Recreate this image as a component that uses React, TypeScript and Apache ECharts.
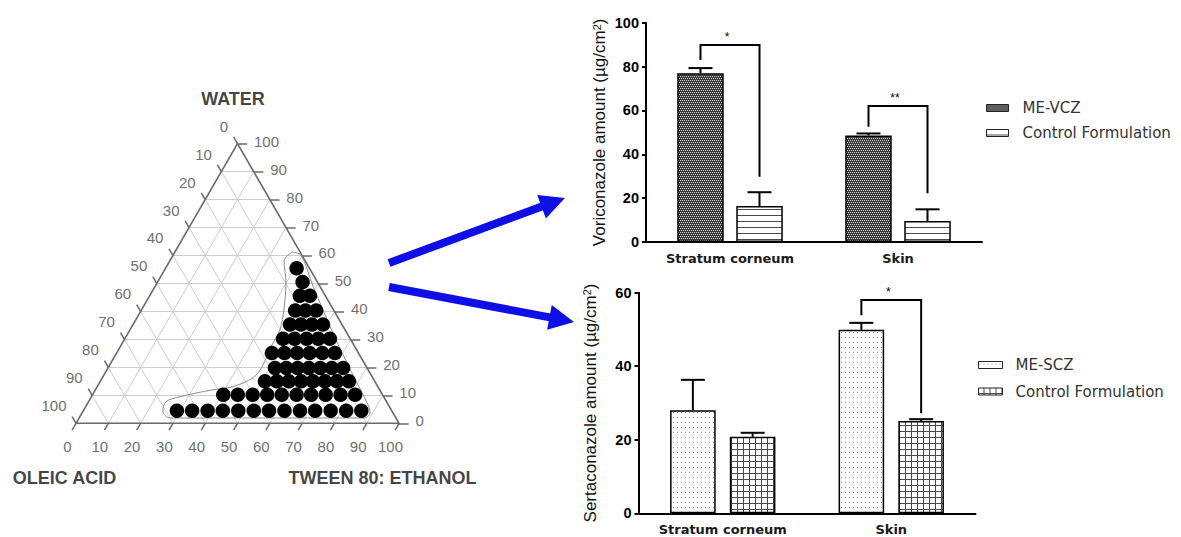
import React, { useEffect, useRef } from 'react';
import * as echarts from 'echarts';

// ---------------- Ternary phase diagram ----------------
const TERNARY_TICKS = [0, 10, 20, 30, 40, 50, 60, 70, 80, 90, 100];
const TERNARY_GRID = [10, 20, 30, 40, 50, 60, 70, 80, 90];
const CORNER_TITLES = ['WATER', 'OLEIC ACID', 'TWEEN 80: ETHANOL'];

// Microemulsion region points: [Tween 80:Ethanol %, Water %]  (oleic acid = remainder)
const ME_POINTS: number[][] = [
  [29.0, 4.5], [33.7, 4.5], [38.5, 4.5], [43.2, 4.5], [48.0, 4.5], [52.8, 4.5], [57.5, 4.5],
  [62.3, 4.5], [67.1, 4.5], [71.8, 4.5], [76.6, 4.5], [81.4, 4.5], [86.1, 4.5],
  [40.5, 10.2], [45.0, 10.2], [49.6, 10.2], [54.1, 10.2], [58.6, 10.2], [63.2, 10.2], [67.7, 10.2],
  [72.2, 10.2], [76.8, 10.2], [81.3, 10.2],
  [51.0, 15.0], [54.7, 15.0], [58.4, 15.0], [62.2, 15.0], [65.9, 15.0], [69.6, 15.0], [73.3, 15.0], [77.0, 15.0],
  [51.7, 19.8], [55.2, 19.8], [58.7, 19.8], [62.2, 19.8], [65.7, 19.8], [69.3, 19.8], [72.8, 19.8],
  [48.1, 25.1], [52.0, 25.1], [55.9, 25.1], [59.8, 25.1], [63.7, 25.1], [67.6, 25.1],
  [49.0, 30.2], [52.6, 30.2], [56.3, 30.2], [59.9, 30.2], [63.5, 30.2],
  [48.6, 35.3], [52.0, 35.3], [55.4, 35.3], [58.8, 35.3],
  [47.7, 40.3], [50.9, 40.3], [54.2, 40.3],
  [46.5, 45.6], [49.6, 45.6],
  [44.9, 50.5],
  [40.6, 55.4],
];

// Outline of the microemulsion region: [Tween 80:Ethanol %, Water %]
const ME_BOUNDARY: number[][] = [
  [36.3, 61.2], [39.6, 60.1], [48.9, 49.0], [63.3, 32.4], [75.3, 19.2], [87.1, 6.6], [89.2, 3.7],
  [88.2, 1.9], [28.2, 1.9], [24.7, 4.4], [24.0, 7.7], [27.5, 9.5], [36.4, 12.0], [41.8, 13.0],
  [46.7, 16.3], [47.5, 20.2], [46.7, 27.4], [46.4, 33.5], [44.0, 40.7], [39.8, 50.4], [35.4, 58.0],
  [36.3, 61.2],
];

// ---------------- Bar charts ----------------
const CATEGORIES = ['Stratum corneum', 'Skin'];

const VCZ_NAMES = ['ME-VCZ', 'Control Formulation'];
const VCZ_ME = [77.0, 48.6];
const VCZ_ME_SD = [2.3, 0.9];
const VCZ_CTRL = [16.4, 9.6];
const VCZ_CTRL_SD = [6.3, 5.3];
// [category, left leg start, bracket top, right leg end]
const VCZ_SIG = [[0, 83.0, 89.8, 29.8], [1, 52.6, 62.0, 22.2]];
const VCZ_SIG_LABELS = ['*', '**'];

const SCZ_NAMES = ['ME-SCZ', 'Control Formulation'];
const SCZ_ME = [28.0, 49.9];
const SCZ_ME_SD = [8.3, 1.9];
const SCZ_CTRL = [20.8, 25.1];
const SCZ_CTRL_SD = [1.1, 0.5];
const SCZ_SIG = [[1, 53.9, 58.0, 27.2]];
const SCZ_SIG_LABELS = ['*'];

// Arrows (page pixel space): [tail, tip]
const ARROWS = [
  [[389, 263], [565, 198]],
  [[389, 287], [574, 322]],
];

const SQ = Math.sqrt(3) / 2;
const FONT = 'Liberation Sans, Arial, sans-serif';
const FONT_D = 'DejaVu Sans, Verdana, sans-serif';

function pattern(w: number, h: number, bg: string, ink: string, rects: number[][]) {
  const c = document.createElement('canvas');
  c.width = w;
  c.height = h;
  const ctx = c.getContext('2d')!;
  ctx.fillStyle = bg;
  ctx.fillRect(0, 0, w, h);
  ctx.fillStyle = ink;
  rects.forEach(([x, y, rw = 1, rh = 1]) => ctx.fillRect(x, y, rw, rh));
  return { image: c, repeat: 'repeat', imageWidth: w, imageHeight: h } as any;
}

const tw = (t: number, w: number) => [t + w / 2, w * SQ];

function buildOption() {
  const P_VCZ_ME = pattern(4, 4, '#383838', '#d2d2d2', [[0, 0], [2, 0], [1, 2], [3, 2]]);
  const P_VCZ_CTRL = pattern(6, 6, '#ffffff', '#4a4a4a', [[0, 5, 6, 1]]);
  const P_SCZ_ME = pattern(4, 5, '#ffffff', '#8a8a8a', [[1, 2]]);
  const P_SCZ_CTRL = pattern(6, 6, '#ffffff', '#4a4a4a', [[0, 5, 6, 1], [5, 0, 1, 6]]);

  // ternary grid lines
  const gridSegs: any[] = [];
  TERNARY_GRID.forEach((k) => {
    gridSegs.push({ coords: [tw(0, k), tw(100 - k, k)] });
    gridSegs.push({ coords: [tw(k, 0), tw(k, 100 - k)] });
    gridSegs.push({ coords: [tw(100 - k, 0), tw(0, 100 - k)] });
  });
  const L = 2.4;
  const tickSegs: any[] = [];
  TERNARY_TICKS.forEach((k) => {
    const b = tw(k, 0);
    tickSegs.push({ coords: [b, [b[0] - 0.5 * L, b[1] - SQ * L]] });
    const l = tw(0, 100 - k);
    tickSegs.push({ coords: [l, [l[0] - 0.5 * L, l[1] + SQ * L]] });
    const r = tw(100 - k, k);
    tickSegs.push({ coords: [r, [r[0] + 3, r[1]]] });
  });

  const tickLabel = { fontSize: 15, color: '#474747', fontFamily: FONT };

  const arrowData = ARROWS.map(([tail, tip]) => {
    const dx = tip[0] - tail[0];
    const dy = tip[1] - tail[1];
    const len = Math.hypot(dx, dy);
    return { coords: [tail, [tip[0] - (12.5 * dx) / len, tip[1] - (12.5 * dy) / len]] };
  });

  const errorSeries = (g: number, vals: number[], sds: number[], offset: number) => ({
    type: 'custom',
    xAxisIndex: g,
    yAxisIndex: g,
    silent: true,
    z: 5,
    data: vals.map((v, i) => [i, v, v + sds[i]]),
    renderItem: (_p: any, api: any) => {
      const base = api.coord([api.value(0), api.value(1)]);
      const top = api.coord([api.value(0), api.value(2)]);
      const x = base[0] + offset;
      return {
        type: 'group',
        children: [
          { type: 'line', shape: { x1: x, y1: base[1], x2: x, y2: top[1] }, style: { stroke: '#000', lineWidth: 2 } },
          { type: 'line', shape: { x1: x - 12, y1: top[1], x2: x + 12, y2: top[1] }, style: { stroke: '#000', lineWidth: 2 } },
        ],
      };
    },
  });

  const bracketSeries = (g: number, sig: number[][], labels: string[], offset: number) => ({
    type: 'custom',
    xAxisIndex: g,
    yAxisIndex: g,
    silent: true,
    z: 6,
    data: sig,
    renderItem: (p: any, api: any) => {
      const cat = api.value(0);
      const l = api.coord([cat, api.value(1)]);
      const t = api.coord([cat, api.value(2)]);
      const r = api.coord([cat, api.value(3)]);
      const xl = l[0] - offset;
      const xr = l[0] + offset;
      return {
        type: 'group',
        children: [
          {
            type: 'polyline',
            shape: { points: [[xl, l[1]], [xl, t[1]], [xr, t[1]], [xr, r[1]]] },
            style: { stroke: '#000', lineWidth: 2, fill: 'none' },
          },
          {
            type: 'text',
            x: (xl + xr) / 2 - 3,
            y: t[1] - 2,
            style: { text: labels[p.dataIndex], fill: '#000', fontSize: 12, fontFamily: FONT, align: 'center', verticalAlign: 'bottom' },
          },
        ],
      };
    },
  });

  const barAxisX = (g: number) => ({
    type: 'category',
    gridIndex: g,
    data: CATEGORIES,
    axisLine: { lineStyle: { color: '#000', width: 2 } },
    axisTick: { alignWithLabel: true, length: 5, lineStyle: { color: '#000', width: 2 } },
    axisLabel: { fontFamily: FONT_D, fontWeight: 'bold', fontSize: 13, color: '#1a1a1a', margin: 10 },
  });
  const barAxisY = (g: number, max: number, name: string, gap: number) => ({
    type: 'value',
    gridIndex: g,
    min: 0,
    max,
    interval: 20,
    name,
    nameLocation: 'middle',
    nameGap: gap,
    nameTextStyle: {
      rich: {
        t: { fontSize: 17, fontFamily: FONT, color: '#111' },
        s: { fontSize: 11, fontFamily: FONT, color: '#111', verticalAlign: 'top' },
      },
    },
    axisLine: { show: true, lineStyle: { color: '#000', width: 2 } },
    axisTick: { show: true, length: 4, lineStyle: { color: '#000', width: 2 } },
    splitLine: { show: false },
    axisLabel: { fontFamily: FONT, fontWeight: 'bold', fontSize: 14.5, color: '#000', margin: 7 },
  });

  const legendText = { fontFamily: FONT_D, fontSize: 15, color: '#333', lineHeight: 16 };

  return {
    animation: false,
    backgroundColor: '#ffffff',
    grid: [
      { left: 76, top: 143.6, width: 323, height: 279.7 },
      { left: 646, top: 22.7, width: 336, height: 219.3 },
      { left: 638.5, top: 292.7, width: 337, height: 220.6 },
      { left: 0, top: 0, width: 1181, height: 537 },
    ],
    xAxis: [
      { type: 'value', gridIndex: 0, min: 0, max: 100, show: false },
      barAxisX(1),
      barAxisX(2),
      { type: 'value', gridIndex: 3, min: 0, max: 1181, show: false },
    ],
    yAxis: [
      { type: 'value', gridIndex: 0, min: 0, max: 100 * SQ, show: false },
      barAxisY(1, 100, '{t|Voriconazole amount (µg/cm}{s|2}{t|)}', 38),
      barAxisY(2, 60, '{t|Sertaconazole amount (µg/cm}{s|2}{t|)}', 40),
      { type: 'value', gridIndex: 3, min: 0, max: 537, inverse: true, show: false },
    ],
    legend: [
      {
        orient: 'vertical',
        left: 986,
        top: 100,
        padding: 0,
        itemWidth: 22,
        itemHeight: 7,
        itemGap: 9,
        icon: 'rect',
        selectedMode: false,
        textStyle: { ...legendText, padding: [0, 0, 0, 9] },
        data: [
          { name: VCZ_NAMES[0], itemStyle: { color: P_VCZ_ME, borderColor: '#222', borderWidth: 1 } },
          { name: VCZ_NAMES[1], itemStyle: { color: P_VCZ_CTRL, borderColor: '#222', borderWidth: 1 } },
        ],
      },
      {
        orient: 'vertical',
        left: 978,
        top: 357,
        padding: 0,
        itemWidth: 24,
        itemHeight: 7,
        itemGap: 10.5,
        icon: 'rect',
        selectedMode: false,
        textStyle: { ...legendText, padding: [0, 0, 0, 8] },
        data: [
          { name: SCZ_NAMES[0], itemStyle: { color: P_SCZ_ME, borderColor: '#222', borderWidth: 1 } },
          { name: SCZ_NAMES[1], itemStyle: { color: P_SCZ_CTRL, borderColor: '#222', borderWidth: 1 } },
        ],
      },
    ],
    series: [
      // ----- ternary -----
      {
        type: 'lines',
        coordinateSystem: 'cartesian2d',
        xAxisIndex: 0,
        yAxisIndex: 0,
        silent: true,
        clip: false,
        z: 1,
        data: gridSegs,
        lineStyle: { color: '#cdcdcd', width: 1, opacity: 1 },
      },
      {
        type: 'lines',
        coordinateSystem: 'cartesian2d',
        xAxisIndex: 0,
        yAxisIndex: 0,
        silent: true,
        clip: false,
        polyline: true,
        z: 2,
        data: [{ coords: [tw(0, 0), tw(100, 0), tw(0, 100), tw(0, 0)] }],
        lineStyle: { color: '#6a6a6a', width: 1.6, opacity: 1 },
      },
      {
        type: 'lines',
        coordinateSystem: 'cartesian2d',
        xAxisIndex: 0,
        yAxisIndex: 0,
        silent: true,
        clip: false,
        z: 2,
        data: tickSegs,
        lineStyle: { color: '#6a6a6a', width: 1.5, opacity: 1 },
      },
      {
        type: 'line',
        xAxisIndex: 0,
        yAxisIndex: 0,
        silent: true,
        clip: false,
        smooth: 0.35,
        symbol: 'none',
        z: 2,
        data: ME_BOUNDARY.map(([t, w]) => tw(t, w)),
        lineStyle: { color: '#8c8c8c', width: 1 },
      },
      {
        type: 'scatter',
        xAxisIndex: 0,
        yAxisIndex: 0,
        silent: true,
        clip: false,
        symbolSize: 14.5,
        z: 3,
        itemStyle: { color: '#000', opacity: 1 },
        data: ME_POINTS.map(([t, w]) => tw(t, w)),
      },
      {
        type: 'scatter',
        xAxisIndex: 0,
        yAxisIndex: 0,
        silent: true,
        clip: false,
        symbolSize: 1,
        itemStyle: { color: 'transparent' },
        data: TERNARY_TICKS.map((k) => [...tw(k, 0), k]),
        label: { show: true, position: [-8, 24], align: 'center', verticalAlign: 'middle', formatter: (p: any) => String(p.value[2]), ...tickLabel },
      },
      {
        type: 'scatter',
        xAxisIndex: 0,
        yAxisIndex: 0,
        silent: true,
        clip: false,
        symbolSize: 1,
        itemStyle: { color: 'transparent' },
        data: TERNARY_TICKS.map((k) => [...tw(0, 100 - k), k]),
        label: { show: true, position: [-9, -17], align: 'right', verticalAlign: 'middle', formatter: (p: any) => String(p.value[2]), ...tickLabel },
      },
      {
        type: 'scatter',
        xAxisIndex: 0,
        yAxisIndex: 0,
        silent: true,
        clip: false,
        symbolSize: 1,
        itemStyle: { color: 'transparent' },
        data: TERNARY_TICKS.map((k) => [...tw(100 - k, k), k]),
        label: { show: true, position: [17, -2], align: 'left', verticalAlign: 'middle', formatter: (p: any) => String(p.value[2]), ...tickLabel },
      },
      {
        type: 'scatter',
        xAxisIndex: 0,
        yAxisIndex: 0,
        silent: true,
        clip: false,
        symbolSize: 1,
        itemStyle: { color: 'transparent' },
        label: { show: true, align: 'center', verticalAlign: 'middle', fontFamily: FONT, fontWeight: 'bold', fontSize: 18, color: '#111', formatter: (p: any) => p.name },
        data: [
          { name: CORNER_TITLES[0], value: tw(0, 100), label: { position: [-4, -44] } },
          { name: CORNER_TITLES[1], value: tw(0, 0), label: { position: [-11, 55] } },
          { name: CORNER_TITLES[2], value: tw(100, 0), label: { position: [-16, 55] } },
        ],
      },
      // ----- arrows -----
      {
        type: 'lines',
        coordinateSystem: 'cartesian2d',
        xAxisIndex: 3,
        yAxisIndex: 3,
        silent: true,
        clip: false,
        z: 4,
        symbol: ['none', 'triangle'],
        symbolSize: [1, 25],
        data: arrowData,
        lineStyle: { color: '#0e0ee6', width: 8, opacity: 1 },
      },
      // ----- voriconazole -----
      {
        type: 'bar',
        name: VCZ_NAMES[0],
        xAxisIndex: 1,
        yAxisIndex: 1,
        barWidth: 46.5,
        barGap: '27%',
        z: 2,
        itemStyle: { color: P_VCZ_ME, borderColor: '#000', borderWidth: 1.5 },
        data: VCZ_ME,
      },
      {
        type: 'bar',
        name: VCZ_NAMES[1],
        xAxisIndex: 1,
        yAxisIndex: 1,
        barWidth: 46.5,
        barGap: '27%',
        z: 2,
        itemStyle: { color: P_VCZ_CTRL, borderColor: '#000', borderWidth: 1.5 },
        data: VCZ_CTRL,
      },
      errorSeries(1, VCZ_ME, VCZ_ME_SD, -29.5),
      errorSeries(1, VCZ_CTRL, VCZ_CTRL_SD, 29.5),
      bracketSeries(1, VCZ_SIG, VCZ_SIG_LABELS, 29.5),
      // ----- sertaconazole -----
      {
        type: 'bar',
        name: SCZ_NAMES[0],
        xAxisIndex: 2,
        yAxisIndex: 2,
        barWidth: 45.6,
        barGap: '31%',
        z: 2,
        itemStyle: { color: P_SCZ_ME, borderColor: '#000', borderWidth: 1.5 },
        data: SCZ_ME,
      },
      {
        type: 'bar',
        name: SCZ_NAMES[1],
        xAxisIndex: 2,
        yAxisIndex: 2,
        barWidth: 45.6,
        barGap: '31%',
        z: 2,
        itemStyle: { color: P_SCZ_CTRL, borderColor: '#000', borderWidth: 1.5 },
        data: SCZ_CTRL,
      },
      errorSeries(2, SCZ_ME, SCZ_ME_SD, -29.9),
      errorSeries(2, SCZ_CTRL, SCZ_CTRL_SD, 29.9),
      bracketSeries(2, SCZ_SIG, SCZ_SIG_LABELS, 29.9),
    ],
  };
}

export default function App() {
  const ref = useRef<HTMLDivElement>(null);
  useEffect(() => {
    document.body.style.margin = '0';
    const chart = echarts.init(ref.current!, null, { renderer: 'svg' });
    chart.setOption(buildOption() as any);
    return () => chart.dispose();
  }, []);
  return <div ref={ref} style={{ width: 1181, height: 537, background: '#fff' }} />;
}
